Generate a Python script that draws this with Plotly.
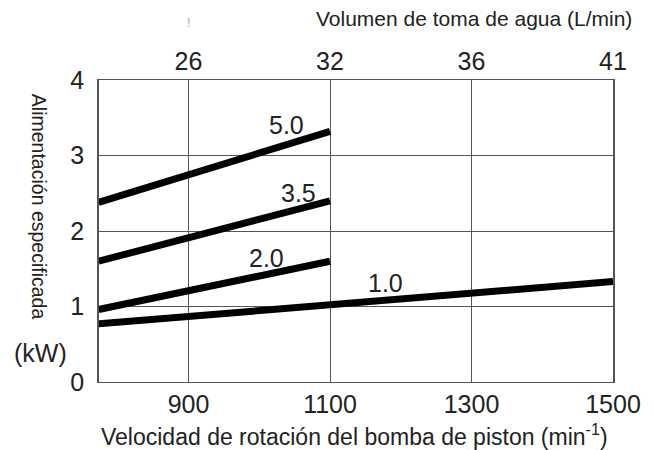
import plotly.graph_objects as go

# Data
speed_ticks = [900, 1100, 1300, 1500]
flow_labels = ["26", "32", "36", "41"]
y_ticks = [0, 1, 2, 3, 4]

series_names = ["5.0", "3.5", "2.0", "1.0"]
series_x = [
    [773, 1100],
    [773, 1100],
    [773, 1100],
    [773, 1100, 1500],
]
series_y = [
    [2.38, 3.32],
    [1.60, 2.40],
    [0.96, 1.60],
    [0.77, 1.02, 1.33],
]
label_x = [1038, 1056, 1010, 1178]
label_y = [3.41, 2.50, 1.64, 1.31]

FONT = "Liberation Sans, Arial, sans-serif"
X_RANGE = [773.5, 1500]

fig = go.Figure()
for name, xs, ys in zip(series_names, series_x, series_y):
    fig.add_trace(go.Scatter(x=xs, y=ys, mode="lines",
                             line=dict(color="black", width=7),
                             showlegend=False, hoverinfo="skip"))
# invisible trace for top axis
fig.add_trace(go.Scatter(x=X_RANGE, y=[0, 0], xaxis="x2", mode="lines",
                         line=dict(width=0), showlegend=False, hoverinfo="skip"))

annotations = []
for name, lx, ly in zip(series_names, label_x, label_y):
    annotations.append(dict(x=lx, y=ly, text=name, showarrow=False,
                            xref="x", yref="y", font=dict(size=25, color="#222"),
                            xanchor="center", yanchor="middle"))

annotations += [
    dict(x=1.04, y=1.0, xref="paper", yref="paper", yshift=62,
         text="Volumen de toma de agua (L/min)", showarrow=False,
         font=dict(size=21, color="#222"),
         xanchor="right", yanchor="middle"),
    dict(x=0.497, y=0, xref="paper", yref="paper", yshift=-53,
         text="Velocidad de rotación del bomba de piston (min<sup>-1</sup>)",
         showarrow=False, font=dict(size=23, color="#222"),
         xanchor="center", yanchor="middle"),
    dict(x=0, y=0.58, xref="paper", yref="paper", xshift=-60,
         text="Alimentación especificada", textangle=90, showarrow=False,
         font=dict(size=19.5, color="#222"),
         xanchor="center", yanchor="middle"),
    dict(x=0, y=0.096, xref="paper", yref="paper", xshift=-59,
         text="(kW)", showarrow=False,
         font=dict(size=25, color="#222"), xanchor="center", yanchor="middle"),
    dict(x=0.176, y=1.0, xref="paper", yref="paper", yshift=58,
         text="!", showarrow=False,
         font=dict(size=13, color="#aaa"), xanchor="center", yanchor="middle"),
]

fig.update_layout(
    width=645, height=442,
    margin=dict(l=91, r=37, t=72, b=68),
    paper_bgcolor="white", plot_bgcolor="white",
    font=dict(family=FONT, color="#222"),
    xaxis=dict(range=X_RANGE, tickvals=speed_ticks, ticks="", showgrid=True,
               gridcolor="#555", gridwidth=1, zeroline=False,
               showline=True, linecolor="#555", linewidth=1, mirror=True,
               tickfont=dict(size=25), ticklabelstandoff=0),
    xaxis2=dict(range=X_RANGE, overlaying="x", side="top", tickvals=speed_ticks,
                ticktext=flow_labels, ticks="", showgrid=False, zeroline=False,
                showline=False, tickfont=dict(size=25), ticklabelstandoff=4),
    yaxis=dict(range=[0, 4], tickvals=y_ticks, ticks="", showgrid=True,
               gridcolor="#555", gridwidth=1, zeroline=False,
               showline=True, linecolor="#555", linewidth=1.5, mirror=True,
               tickfont=dict(size=25), ticklabelstandoff=8),
    annotations=annotations,
)

fig.write_html("out.html")
